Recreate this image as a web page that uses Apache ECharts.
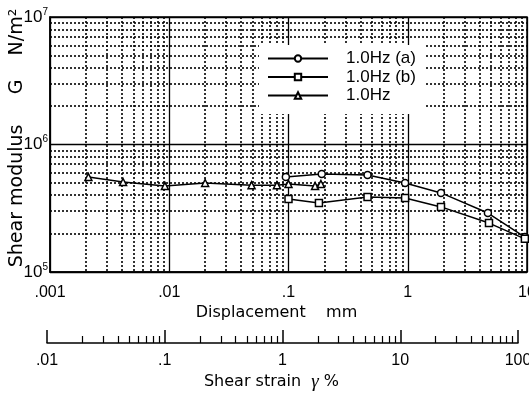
<!DOCTYPE html>
<html>
<head>
<meta charset="utf-8">
<script src="https://cdn.jsdelivr.net/npm/echarts@6/dist/echarts.min.js"></script>
<style>
  html, body { margin: 0; padding: 0; background: #fff; }
  #chart { width: 529px; height: 393px; }
</style>
</head>
<body>
<div id="chart"></div>
<script>
// readings
var dispA = [0.095, 0.19, 0.46, 0.95, 1.9, 4.7, 9.6];
var gA = [5.56e5, 5.87e5, 5.77e5, 4.99e5, 4.17e5, 2.9e5, 1.88e5];
var dispB = [0.1, 0.18, 0.46, 0.95, 1.9, 4.8, 9.6];
var gB = [3.74e5, 3.47e5, 3.87e5, 3.8e5, 3.24e5, 2.42e5, 1.82e5];
var dispC = [0.0021, 0.0041, 0.0092, 0.02, 0.049, 0.08, 0.1, 0.167, 0.187];
var gC = [5.56e5, 5.08e5, 4.73e5, 4.99e5, 4.8e5, 4.8e5, 4.9e5, 4.73e5, 4.9e5];

var seriesNames = ['1.0Hz (a)', '1.0Hz (b)', '1.0Hz'];
var seriesSymbols = ['circle', 'rect', 'triangle'];

var dispTicks = ['.001', '.01', '.1', '1', '10'];
var strainTicks = ['.01', '.1', '1', '10', '100'];
var gPowers = ['5', '6', '7'];

function pairs(xs, ys) {
  return xs.map(function(x, i) { return [x, ys[i]]; });
}

var font = 'Liberation Sans, Arial, sans-serif';
var titleFont = 'DejaVu Sans, sans-serif';
var chart = echarts.init(document.getElementById('chart'), null, { renderer: 'canvas' });

function lineSeries(i, xs, ys) {
  return {
    name: seriesNames[i],
    type: 'line',
    xAxisIndex: 0,
    yAxisIndex: 0,
    data: pairs(xs, ys),
    symbol: seriesSymbols[i],
    symbolSize: 7,
    lineStyle: { color: '#000', width: 1.5 },
    itemStyle: { color: '#fff', borderColor: '#000', borderWidth: 1.5 },
    animation: false
  };
}

var dotted = { color: '#000', width: 1.6, type: [2, 2] };

chart.setOption({
  animation: false,
  grid: [
    { left: 50, right: 2, top: 17, bottom: 121, show: true, borderColor: '#000', borderWidth: 1.5, outerBoundsMode: 'none' },
    { left: 47, right: 11, top: 342, height: 1, outerBoundsMode: 'none' }
  ],
  legend: {
    orient: 'vertical',
    left: 259,
    top: 45,
    data: seriesNames,
    backgroundColor: '#fff',
    padding: [5, 10, 10, 8],
    itemWidth: 60,
    itemHeight: 8,
    itemGap: 1.5,
    textStyle: { fontFamily: font, fontSize: 17, color: '#000', lineHeight: 10, padding: [6, 0, 0, 13] }
  },
  xAxis: [
    {
      type: 'log', gridIndex: 0, min: 0.001, max: 10,
      name: 'Displacement    mm', nameLocation: 'middle', nameGap: 33, nameMoveOverlap: false,
      nameTextStyle: { fontFamily: titleFont, fontSize: 16, color: '#000', padding: [0, 24, 0, 0] },
      axisLine: { show: true, lineStyle: { color: '#000', width: 1.5 } },
      axisTick: { show: false },
      axisLabel: {
        margin: 13, fontFamily: font, fontSize: 16, color: '#000', showMaxLabel: true, hideOverlap: false,
        formatter: function(v) { return dispTicks[Math.round(Math.log10(v)) + 3]; }
      },
      splitLine: { show: true, lineStyle: { color: '#000', width: 1.3 } },
      minorTick: { show: false, splitNumber: 9 },
      minorSplitLine: { show: true, lineStyle: dotted }
    },
    {
      type: 'log', gridIndex: 1, min: 0.01, max: 100, position: 'bottom',
      name: 'Shear strain  {g|γ} %', nameLocation: 'middle', nameGap: 29, nameMoveOverlap: false,
      nameTextStyle: {
        fontFamily: titleFont, fontSize: 16, color: '#000', padding: [0, 22, 0, 0],
        rich: { g: { fontFamily: 'Liberation Serif, serif', fontStyle: 'italic', fontSize: 19, color: '#000' } }
      },
      axisLine: { show: true, lineStyle: { color: '#000', width: 1.5 } },
      axisTick: { show: true, inside: true, length: 13, lineStyle: { color: '#000', width: 1.5 } },
      minorTick: { show: true, splitNumber: 9, length: 7, lineStyle: { color: '#000', width: 1.2 } },
      axisLabel: {
        margin: 10, fontFamily: font, fontSize: 16, color: '#000', showMaxLabel: true, hideOverlap: false,
        formatter: function(v) { return strainTicks[Math.round(Math.log10(v)) + 2]; }
      },
      splitLine: { show: false }
    }
  ],
  yAxis: [
    {
      type: 'log', gridIndex: 0, min: 1e5, max: 1e7,
      name: 'Shear modulus     G    N/m²', nameLocation: 'middle', nameGap: 23, nameMoveOverlap: false,
      nameTextStyle: { fontFamily: titleFont, fontSize: 19, color: '#000', padding: [0, 0, 0, 13] },
      axisLine: { show: true, lineStyle: { color: '#000', width: 1.5 } },
      axisTick: { show: false },
      axisLabel: {
        margin: 2, fontFamily: font, color: '#000',
        formatter: function(v) { return '{b|10}{s|' + gPowers[Math.round(Math.log10(v)) - 5] + '}'; },
        rich: {
          b: { fontFamily: font, fontSize: 17, color: '#000' },
          s: { fontFamily: font, fontSize: 10, color: '#000', verticalAlign: 'top', padding: [0, 0, 10, 0] }
        }
      },
      splitLine: { show: true, lineStyle: { color: '#000', width: 1.3 } },
      minorTick: { show: false, splitNumber: 9 },
      minorSplitLine: { show: true, lineStyle: dotted }
    },
    { type: 'value', gridIndex: 1, show: false, min: 0, max: 1 }
  ],
  series: [
    lineSeries(0, dispA, gA),
    lineSeries(1, dispB, gB),
    lineSeries(2, dispC, gC)
  ]
});

window.addEventListener('resize', function() { chart.resize(); });
</script>
</body>
</html>
